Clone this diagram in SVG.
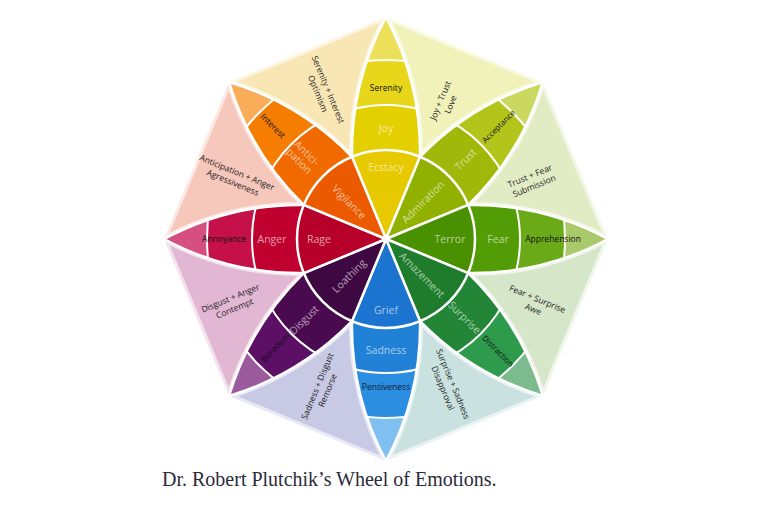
<svg xmlns="http://www.w3.org/2000/svg" xmlns:xlink="http://www.w3.org/1999/xlink" width="759" height="510" viewBox="0 0 759 510">
<style>
.tri{stroke:#fff;stroke-width:6;stroke-opacity:.6;stroke-linejoin:round}
.edge{fill:none;stroke:#fff;stroke-width:2.5;stroke-linejoin:round}
.band{fill:none;stroke:#fff;stroke-width:2}
text{font-family:"Open Sans","Noto Sans",sans-serif;text-anchor:middle}
.in{font-size:10.5px;fill:#fff;fill-opacity:.62}
.out{font-size:8.5px;fill:#111}
.sm{font-size:8px}
.dy{font-size:8.5px;fill:#222}
.cap{font-family:"Liberation Serif",serif;font-size:20px;fill:#2b2b3b;text-anchor:start}
</style>
<defs>
<path id="pp" d="M0,0 L-34.06,-82.22 A286.6,286.6 0 0 1 0,-222 A286.6,286.6 0 0 1 34.06,-82.22 Z"/>
<path id="tp" d="M34.06,-82.22 A286.6,286.6 0 0 1 156.98,-156.98 L0,-222 A286.6,286.6 0 0 1 34.06,-82.22 Z"/>
<clipPath id="pc"><path d="M0,0 L-34.06,-82.22 A286.6,286.6 0 0 1 0,-222 A286.6,286.6 0 0 1 34.06,-82.22 Z"/></clipPath>
</defs>
<rect width="759" height="510" fill="#fff"/>

<g id="dyads">
<g id="love"><use xlink:href="#tp" href="#tp" class="tri" fill="#f1f2ba" transform="translate(386,239) rotate(0)"/>
<text class="dy" transform="translate(445.5,102.5) rotate(-67.5)"><tspan x="0" y="-5.5" dy=".35em">Joy + Trust</tspan><tspan x="0" y="5.5" dy=".35em">Love</tspan></text></g>
<g id="submission"><use xlink:href="#tp" href="#tp" class="tri" fill="#e1ecc4" transform="translate(386,239) rotate(45)"/>
<text class="dy" transform="translate(532,181) rotate(-22.5)"><tspan x="0" y="-5.5" dy=".35em">Trust + Fear</tspan><tspan x="0" y="5.5" dy=".35em">Submission</tspan></text></g>
<g id="awe"><use xlink:href="#tp" href="#tp" class="tri" fill="#d5e6c9" transform="translate(386,239) rotate(90)"/>
<text class="dy" transform="translate(535.3,304) rotate(22.5)"><tspan x="0" y="-5.5" dy=".35em">Fear + Surprise</tspan><tspan x="0" y="5.5" dy=".35em">Awe</tspan></text></g>
<g id="disapproval"><use xlink:href="#tp" href="#tp" class="tri" fill="#c9e2e0" transform="translate(386,239) rotate(135)"/>
<text class="dy" transform="translate(448,386) rotate(67.5)"><tspan x="0" y="-5.5" dy=".35em">Surprise + Sadness</tspan><tspan x="0" y="5.5" dy=".35em">Disapproval</tspan></text></g>
<g id="remorse"><use xlink:href="#tp" href="#tp" class="tri" fill="#c8c9e5" transform="translate(386,239) rotate(180)"/>
<text class="dy" transform="translate(322.5,388.3) rotate(-67.5)"><tspan x="0" y="-5.5" dy=".35em">Sadness + Disgust</tspan><tspan x="0" y="5.5" dy=".35em">Remorse</tspan></text></g>
<g id="contempt"><use xlink:href="#tp" href="#tp" class="tri" fill="#e2b7d4" transform="translate(386,239) rotate(225)"/>
<text class="dy" transform="translate(232.5,303.3) rotate(-22.5)"><tspan x="0" y="-5.5" dy=".35em">Disgust + Anger</tspan><tspan x="0" y="5.5" dy=".35em">Contempt</tspan></text></g>
<g id="aggressiveness"><use xlink:href="#tp" href="#tp" class="tri" fill="#f6c7bb" transform="translate(386,239) rotate(270)"/>
<text class="dy" transform="translate(235,177.5) rotate(22.5)"><tspan x="0" y="-5.5" dy=".35em">Anticipation + Anger</tspan><tspan x="0" y="5.5" dy=".35em">Agressiveness</tspan></text></g>
<g id="optimism"><use xlink:href="#tp" href="#tp" class="tri" fill="#f9e6b5" transform="translate(386,239) rotate(315)"/>
<text class="dy" transform="translate(323,91.5) rotate(67.5)"><tspan x="0" y="-5.5" dy=".35em">Serenity + Interest</tspan><tspan x="0" y="5.5" dy=".35em">Optimism</tspan></text></g>
</g>

<g id="petals">
<g id="joy">
<g transform="translate(386,239) rotate(0)"><g clip-path="url(#pc)"><rect x="-60" y="-230" width="120" height="240" fill="#ece05a"/><circle r="179" fill="#e7d61a"/><circle r="134" fill="#e4cf00"/><circle r="89" fill="#e7c900"/><circle r="179" class="band"/><circle r="134" class="band"/></g><use xlink:href="#pp" href="#pp" class="edge"/></g>
<text class="in" x="386" y="167" dy=".35em">Ecstacy</text>
<text class="in" x="386" y="128" dy=".35em">Joy</text>
<text class="out" x="386" y="88" dy=".35em">Serenity</text>
</g>
<g id="trust">
<g transform="translate(386,239) rotate(45)"><g clip-path="url(#pc)"><rect x="-60" y="-230" width="120" height="240" fill="#cad862"/><circle r="179" fill="#b3c51a"/><circle r="134" fill="#9fb80a"/><circle r="89" fill="#92b000"/><circle r="179" class="band"/><circle r="134" class="band"/></g><use xlink:href="#pp" href="#pp" class="edge"/></g>
<text class="in" transform="translate(423,202) rotate(-45)" dy=".35em">Admiration</text>
<text class="in" transform="translate(465.5,159.5) rotate(-45)" dy=".35em">Trust</text>
<text class="out sm" transform="translate(498.5,126.5) rotate(-45)" dy=".35em">Acceptance</text>
</g>
<g id="fear">
<g transform="translate(386,239) rotate(90)"><g clip-path="url(#pc)"><rect x="-60" y="-230" width="120" height="240" fill="#a9c96b"/><circle r="179" fill="#6aa918"/><circle r="134" fill="#529c06"/><circle r="89" fill="#4a9102"/><circle r="179" class="band"/><circle r="134" class="band"/></g><use xlink:href="#pp" href="#pp" class="edge"/></g>
<text class="in" x="450" y="239" dy=".35em">Terror</text>
<text class="in" x="498" y="239" dy=".35em">Fear</text>
<text class="out" x="553" y="239" dy=".35em">Apprehension</text>
</g>
<g id="surprise">
<g transform="translate(386,239) rotate(135)"><g clip-path="url(#pc)"><rect x="-60" y="-230" width="120" height="240" fill="#7cbb8d"/><circle r="179" fill="#2e9a4b"/><circle r="134" fill="#238637"/><circle r="89" fill="#1f7c2c"/><circle r="179" class="band"/><circle r="134" class="band"/></g><use xlink:href="#pp" href="#pp" class="edge"/></g>
<text class="in" transform="translate(422,275) rotate(45)" dy=".35em">Amazement</text>
<text class="in" transform="translate(464.5,317.5) rotate(45)" dy=".35em">Surprise</text>
<text class="out sm" transform="translate(498,351) rotate(45)" dy=".35em">Distraction</text>
</g>
<g id="sadness">
<g transform="translate(386,239) rotate(180)"><g clip-path="url(#pc)"><rect x="-60" y="-230" width="120" height="240" fill="#80c0f0"/><circle r="179" fill="#2b8ee0"/><circle r="134" fill="#2181d6"/><circle r="89" fill="#1b74cf"/><circle r="179" class="band"/><circle r="134" class="band"/></g><use xlink:href="#pp" href="#pp" class="edge"/></g>
<text class="in" x="386" y="310" dy=".35em">Grief</text>
<text class="in" x="386" y="350" dy=".35em">Sadness</text>
<text class="out" x="386" y="387" dy=".35em" style="fill:#0d1a3a">Pensiveness</text>
</g>
<g id="disgust">
<g transform="translate(386,239) rotate(225)"><g clip-path="url(#pc)"><rect x="-60" y="-230" width="120" height="240" fill="#9a5a9c"/><circle r="179" fill="#5c1065"/><circle r="134" fill="#4a0a50"/><circle r="89" fill="#3e0842"/><circle r="179" class="band"/><circle r="134" class="band"/></g><use xlink:href="#pp" href="#pp" class="edge"/></g>
<text class="in" transform="translate(349,276) rotate(-45)" dy=".35em">Loathing</text>
<text class="in" transform="translate(304,320) rotate(-45)" dy=".35em">Disgust</text>
<text class="out" transform="translate(275.5,347.5) rotate(-45)" dy=".35em" style="fill:#1a0620">Boredom</text>
</g>
<g id="anger">
<g transform="translate(386,239) rotate(270)"><g clip-path="url(#pc)"><rect x="-60" y="-230" width="120" height="240" fill="#d6507f"/><circle r="179" fill="#c5104a"/><circle r="134" fill="#c0002e"/><circle r="89" fill="#b6002a"/><circle r="179" class="band"/><circle r="134" class="band"/></g><use xlink:href="#pp" href="#pp" class="edge"/></g>
<text class="in" x="319" y="239" dy=".35em">Rage</text>
<text class="in" x="272" y="239" dy=".35em">Anger</text>
<text class="out" x="224" y="239" dy=".35em">Annoyance</text>
</g>
<g id="anticipation">
<g transform="translate(386,239) rotate(315)"><g clip-path="url(#pc)"><rect x="-60" y="-230" width="120" height="240" fill="#f9ad58"/><circle r="179" fill="#f47d02"/><circle r="134" fill="#f06a00"/><circle r="89" fill="#ec5a00"/><circle r="179" class="band"/><circle r="134" class="band"/></g><use xlink:href="#pp" href="#pp" class="edge"/></g>
<text class="in" transform="translate(349,202) rotate(45)" dy=".35em">Vigilance</text>
<text class="in" transform="translate(303,157) rotate(45)"><tspan x="0" y="-5.5" dy=".35em">Antici-</tspan><tspan x="0" y="5.5" dy=".35em">pation</tspan></text>
<text class="out" transform="translate(273,126) rotate(45)" dy=".35em">Interest</text>
</g>
</g>
<circle id="inner-ring" cx="386" cy="239" r="89" fill="none" stroke="#fff" stroke-width="2.5"/>

<text id="caption" class="cap" x="162" y="486">Dr. Robert Plutchik’s Wheel of Emotions.</text>
</svg>
